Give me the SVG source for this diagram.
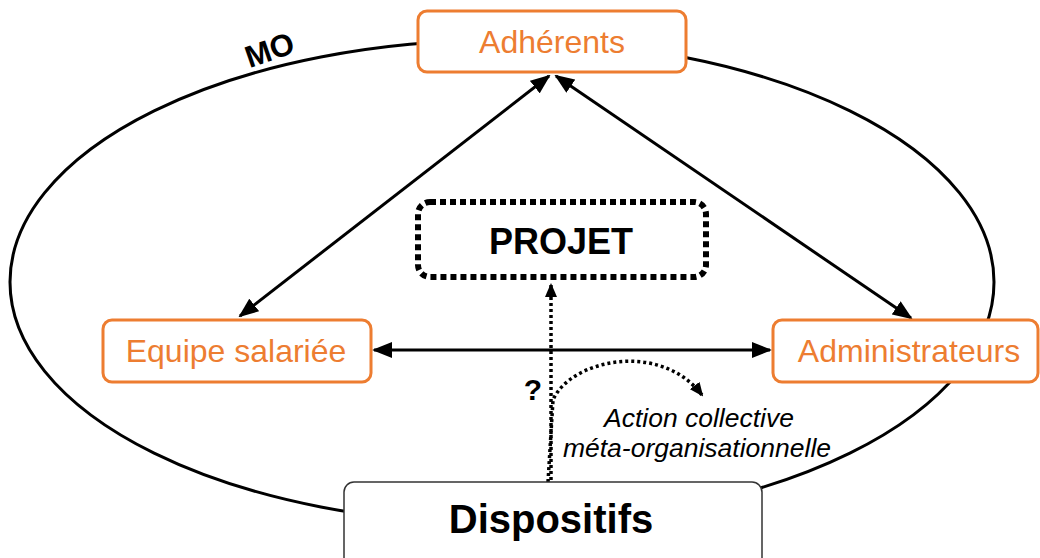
<svg xmlns="http://www.w3.org/2000/svg" width="1040" height="558" viewBox="0 0 1040 558">
<style>
.node{fill:#fff;stroke:#ED7D31;stroke-width:3}
.lbl{font-family:"Liberation Sans",Arial,sans-serif;font-size:32px;fill:#ED7D31;text-anchor:middle}
.bold{font-family:"Liberation Sans",Arial,sans-serif;font-weight:bold;fill:#000;text-anchor:middle}
.it{font-family:"Liberation Sans",Arial,sans-serif;font-style:italic;font-size:26.5px;fill:#000;text-anchor:middle}
.solid{stroke:#000;stroke-width:3;fill:none}
.dot{stroke:#000;stroke-width:3.5;fill:none;stroke-dasharray:3 3}
</style>
<defs>
<marker id="ah" viewBox="0 0 20 16" refX="18" refY="8" markerWidth="20" markerHeight="16" markerUnits="userSpaceOnUse" orient="auto-start-reverse">
<path d="M0,0 L20,8 L0,16 z" fill="#000"/>
</marker>
<marker id="ahs" viewBox="0 0 14 12" refX="12" refY="6" markerWidth="14" markerHeight="12" markerUnits="userSpaceOnUse" orient="auto">
<path d="M0,0 L14,6 L0,12 z" fill="#000"/>
</marker>
</defs>
<g id="mo">
<ellipse cx="502" cy="282" rx="492" ry="242" fill="none" stroke="#000" stroke-width="3"/>
<text class="bold" font-size="31" transform="translate(273,60) rotate(-19)" x="0" y="0">MO</text>
</g>
<g id="connectors">
<line class="solid" x1="549" y1="76" x2="240" y2="316" marker-start="url(#ah)" marker-end="url(#ah)"/>
<line class="solid" x1="556" y1="76" x2="911" y2="318" marker-start="url(#ah)" marker-end="url(#ah)"/>
<line class="solid" x1="374" y1="350" x2="770" y2="350" marker-start="url(#ah)" marker-end="url(#ah)"/>
<line class="dot" x1="551" y1="480" x2="551" y2="285" marker-end="url(#ahs)"/>
<path class="dot" d="M548,482 L553,400 C570,360 660,340 702,395" marker-end="url(#ahs)"/>
</g>
<g id="adherents">
<rect class="node" x="418" y="11" width="268" height="61" rx="9"/>
<text class="lbl" x="552" y="53">Adhérents</text>
</g>
<g id="equipe">
<rect class="node" x="103" y="320" width="268" height="62" rx="9"/>
<text class="lbl" x="236" y="362">Equipe salariée</text>
</g>
<g id="administrateurs">
<rect class="node" x="773" y="320" width="265" height="62" rx="9"/>
<text class="lbl" x="909" y="362">Administrateurs</text>
</g>
<g id="projet">
<rect x="418" y="202" width="288" height="75" rx="12" fill="#fff" stroke="#000" stroke-width="6" stroke-dasharray="6 4"/>
<text class="bold" font-size="36" x="561" y="254">PROJET</text>
</g>
<g id="dispositifs">
<rect x="344" y="482" width="418" height="90" rx="10" fill="#fff" stroke="#333" stroke-width="1.5"/>
<text class="bold" font-size="40" x="551" y="533">Dispositifs</text>
</g>
<g id="labels">
<text class="bold" font-size="30" x="533" y="400">?</text>
<text class="it" x="699" y="427">Action collective</text>
<text class="it" x="697" y="457">méta-organisationnelle</text>
</g>
</svg>
